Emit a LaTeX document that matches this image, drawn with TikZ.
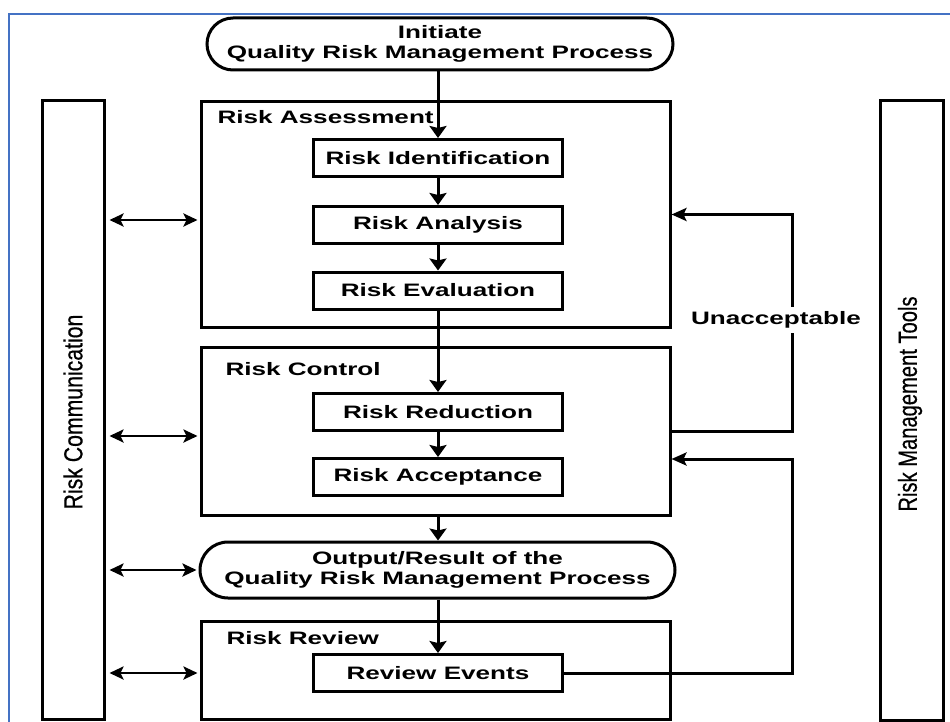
\documentclass[tikz,border=0pt]{standalone}
\usepackage{fontspec}
\setmainfont{Liberation Sans}
\newfontfamily\vfont[FakeBold=0.6]{Liberation Sans}
\usetikzlibrary{arrows.meta}
\newcommand{\hstretch}[1]{\scalebox{1.45}[1]{#1}}
\definecolor{frameblue}{RGB}{68,114,196}
\begin{document}
\begin{tikzpicture}[x=1pt,y=-1pt,
  box/.style={draw=black, line width=3pt, rectangle, inner sep=0pt},
  lbl/.style={font=\bfseries\fontsize{18}{20}\selectfont, text=black},
  small/.style={box, lbl, minimum width=249pt, minimum height=37pt},
  big/.style={box, minimum width=469pt},
  term/.style={box, lbl, align=center},
  bar/.style={box, minimum width=62pt, minimum height=618pt},
  vtext/.style={rotate=90, font=\vfont\fontsize{18}{20}\selectfont, text=black},
  flow/.style={line width=3pt, draw=black, -{Stealth[length=12pt,width=17pt,inset=2pt]}},
  dbl/.style={line width=2.6pt, draw=black, {Stealth[length=14pt,width=13pt,inset=3pt]}-{Stealth[length=14pt,width=13pt,inset=3pt]}, shorten <=4pt, shorten >=2pt},
  fb/.style={line width=3pt, draw=black, -{Stealth[length=15pt,width=13pt,inset=3pt]}}
]
\useasboundingbox (0,0) rectangle (950,722);
\fill[white] (0,0) rectangle (950,722);
% blue frame
\draw[frameblue, line width=2pt] (9,722) -- (9,14) -- (950,14);

% side bars
\node[bar] (comm) at (73,410) {};
\node[vtext] (commtxt) at (73,412) {\scalebox{1.18}[1.45]{Risk Communication}};
\node[bar, minimum width=63pt, minimum height=619pt] (tools) at (911.5,410.5) {};
\node[vtext] (toolstxt) at (910,404) {\scalebox{1.12}[1.45]{Risk Management Tools}};

% start / output terminators
\node[term, minimum width=466pt, minimum height=52pt, rounded corners=26pt] (init) at (440,44)
  {\hstretch{Initiate}\\\hstretch{Quality Risk Management Process}};
\node[term, minimum width=475pt, minimum height=56pt, rounded corners=28pt] (out) at (437.5,570)
  {\hstretch{Output/Result of the}\\\hstretch{Quality Risk Management Process}};

% big boxes
\node[big, minimum height=225pt] (ra) at (435.5,214.5) {};
\node[lbl, anchor=base west] (ratitle) at (214,124) {\hstretch{Risk Assessment}};
\node[big, minimum height=168pt] (rc) at (435.5,431) {};
\node[lbl, anchor=base west] (rctitle) at (222,375) {\hstretch{Risk Control}};
\node[big, minimum height=98pt] (rr) at (435.5,670) {};
\node[lbl, anchor=base west] (rrtitle) at (223,644) {\hstretch{Risk Review}};

% small boxes
\node[small] (ri) at (438,158) {\hstretch{Risk Identification}};
\node[small] (ran) at (438,225) {\hstretch{Risk Analysis}};
\node[small] (re) at (438,290.5) {\hstretch{Risk Evaluation}};
\node[small] (rred) at (438,412) {\hstretch{Risk Reduction}};
\node[small] (racc) at (438,477) {\hstretch{Risk Acceptance}};
\node[small] (rev) at (438,673) {\hstretch{Review Events}};

% main flow
\draw[flow] (ri.north |- init.south) -- (ri.north);
\draw[flow] (ri.south) -- (ran.north);
\draw[flow] (ran.south) -- (re.north);
\draw[flow] (re.south) -- (rred.north);
\draw[flow] (rred.south) -- (racc.north);
\draw[flow] (ri.south |- rc.south) -- (ri.north |- out.north);
\draw[flow] (rev.north |- out.south) -- (rev.north);

% risk communication arrows
\coordinate (y1) at (0,220);
\coordinate (y2) at (0,436);
\coordinate (y3) at (0,570);
\coordinate (y4) at (0,673);
\draw[dbl] (comm.east |- y1) -- (ra.west |- y1);
\draw[dbl] (comm.east |- y2) -- (rc.west |- y2);
\draw[dbl] (comm.east |- y3) -- (out.west |- y3);
\draw[dbl] (comm.east |- y4) -- (rr.west |- y4);

% feedback loops
\coordinate (lx) at (792,0);
\coordinate (ly2) at (0,459);
\draw[fb] (rc.east) -| (lx |- ra.east) -- (ra.east);
\draw[fb] (rev.east) -| (lx |- ly2) -- (rc.east |- ly2);
\node[lbl, fill=white, inner sep=5pt] (unacc) at (776,320) {\hstretch{Unacceptable}};
\end{tikzpicture}
\end{document}
